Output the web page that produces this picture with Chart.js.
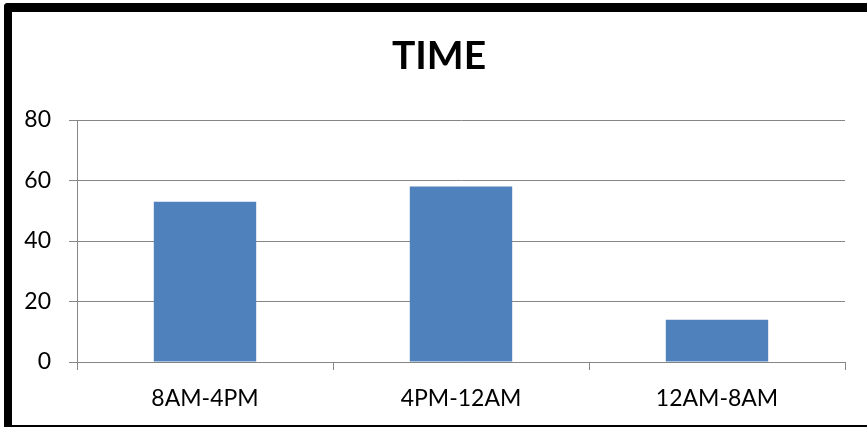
<!DOCTYPE html>
<html>
<head>
<meta charset="utf-8">
<script src="https://cdn.jsdelivr.net/npm/chart.js@4"></script>
<style>
    html, body { margin: 0; padding: 0; background: #fff; overflow: hidden; }
    #wrap { position: relative; width: 867px; height: 427px; overflow: hidden; }
    #timeChart { display: block; }
    #frame {
        position: absolute; left: 4px; top: 3px; width: 863px; height: 431px;
        border-style: solid; border-color: #000; border-width: 9px 0 9px 8px;
        border-radius: 4px 0 0 0; box-sizing: border-box;
        pointer-events: none;
    }
</style>
</head>
<body>
<div id="wrap">
    <canvas id="timeChart" width="867" height="427"></canvas>
    <div id="frame"></div>
</div>
<script>
// Chart data
const categories = ['8AM-4PM', '4PM-12AM', '12AM-8AM'];
const counts = [53, 58, 14];
const yTicks = [0, 20, 40, 60, 80];
const chartTitle = 'TIME';

const gridGray = '#868686';
const fontFamily = 'Lato, "Liberation Sans", sans-serif';

// title is centred on the whole frame, not on the plot, so draw it ourselves
const frameTitle = {
    id: 'frameTitle',
    afterDraw(chart) {
        const c = chart.ctx;
        c.save();
        c.fillStyle = '#000';
        c.font = 'bold 39px ' + fontFamily;
        c.textAlign = 'center';
        c.textBaseline = 'middle';
        c.fillText(chartTitle, 439, 56);
        c.restore();
    }
};

const ctx = document.getElementById('timeChart');
new Chart(ctx, {
    type: 'bar',
    data: {
        labels: categories,
        datasets: [{
            label: chartTitle,
            data: counts,
            backgroundColor: '#4f81bd',
            categoryPercentage: 0.8,
            barPercentage: 0.5
        }]
    },
    options: {
        responsive: false,
        animation: false,
        layout: {
            padding: { left: 0, right: 22, top: 120, bottom: 0 }
        },
        plugins: {
            legend: { display: false },
            tooltip: { enabled: false },
            title: { display: false }
        },
        scales: {
            x: {
                offset: true,
                grid: {
                    offset: true,
                    drawOnChartArea: false,
                    drawTicks: true,
                    tickLength: 8,
                    color: gridGray
                },
                border: { color: gridGray },
                ticks: {
                    color: '#000',
                    padding: 15,
                    font: { family: fontFamily, size: 23 }
                },
                afterFit: (scale) => { scale.height = 65; }
            },
            y: {
                min: 0,
                max: yTicks[yTicks.length - 1],
                afterBuildTicks: (scale) => {
                    scale.ticks = yTicks.map(v => ({ value: v }));
                },
                grid: {
                    color: gridGray,
                    tickLength: 8
                },
                border: { color: gridGray },
                ticks: {
                    color: '#000',
                    padding: 18,
                    font: { family: fontFamily, size: 23 }
                },
                afterFit: (scale) => { scale.width = 77; }
            }
        }
    },
    plugins: [frameTitle]
});
</script>
</body>
</html>
